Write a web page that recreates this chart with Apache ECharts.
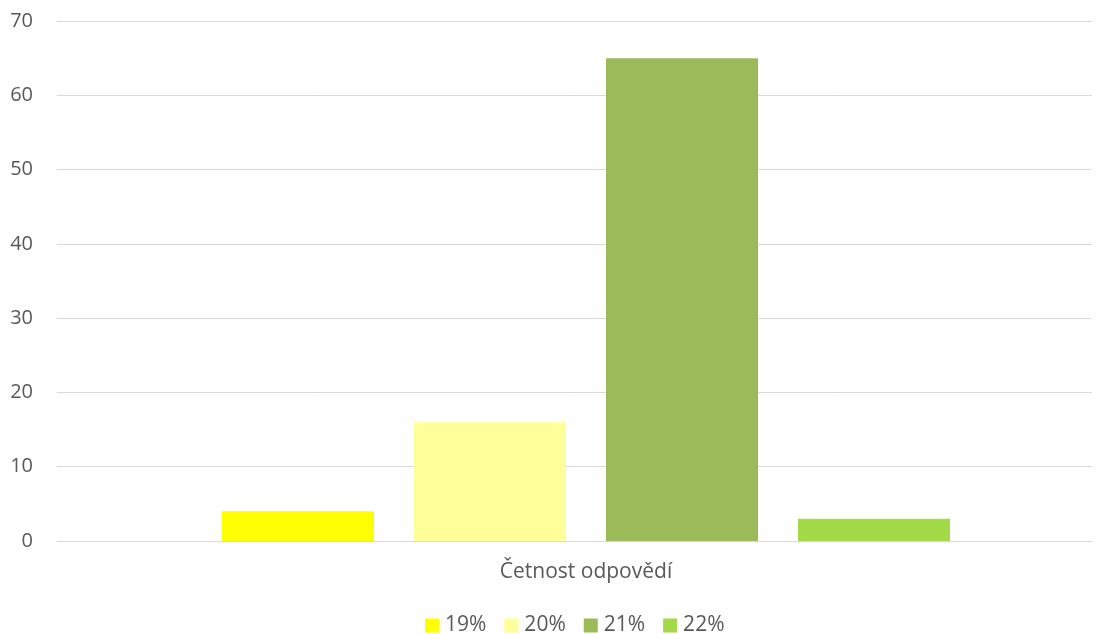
<!DOCTYPE html>
<html>
<head>
<meta charset="utf-8">
<script src="https://cdn.jsdelivr.net/npm/echarts@6/dist/echarts.min.js"></script>
<style>
  html, body { margin: 0; padding: 0; background: #ffffff; }
  #chart { width: 1104px; height: 634px; }
</style>
</head>
<body>
<div id="chart"></div>
<script>
// Response frequency by answer option
const categories = ['Četnost odpovědí'];
const seriesNames = ['19%', '20%', '21%', '22%'];
const seriesValues = [[4], [16], [65], [3]];
const seriesColors = ['#FFFF00', '#FFFF99', '#9BBB59', '#A3DB48'];
const yTicks = { min: 0, max: 70, interval: 10 };

const textColor = '#595959';
const gridColor = '#D9D9D9';
const fontFamily = '"Open Sans", "Noto Sans", sans-serif';

const chart = echarts.init(document.getElementById('chart'), null, { renderer: 'canvas' });

// Grid 0 carries the value scale, gridlines and baseline; grid 1 holds the bars
// and category label, with the plot band inset from the label gutter.
const series = seriesNames.map((name, i) => ({
  name: name,
  type: 'bar',
  xAxisIndex: 1,
  yAxisIndex: 1,
  data: seriesValues[i],
  itemStyle: { color: seriesColors[i] },
  barGap: '26.3%',
  barCategoryGap: '28.06%'
}));

chart.setOption({
  animation: false,
  backgroundColor: '#ffffff',
  grid: [
    { left: 57, right: 12, top: 21, bottom: 93, containLabel: false },
    { left: 80, right: 12, top: 21, bottom: 93, containLabel: false }
  ],
  xAxis: [
    {
      gridIndex: 0,
      type: 'category',
      data: [''],
      axisLine: { show: true, lineStyle: { color: gridColor, width: 1 } },
      axisTick: { show: false },
      axisLabel: { show: false }
    },
    {
      gridIndex: 1,
      type: 'category',
      data: categories,
      axisLine: { show: false },
      axisTick: { show: false },
      axisLabel: { color: textColor, fontSize: 21, fontFamily: fontFamily, margin: 21 }
    }
  ],
  yAxis: [
    {
      gridIndex: 0,
      type: 'value',
      min: yTicks.min,
      max: yTicks.max,
      interval: yTicks.interval,
      axisLine: { show: false },
      axisTick: { show: false },
      axisLabel: { color: textColor, fontSize: 20, fontFamily: fontFamily, margin: 24 },
      splitLine: { lineStyle: { color: gridColor, width: 1 } }
    },
    {
      gridIndex: 1,
      type: 'value',
      min: yTicks.min,
      max: yTicks.max,
      interval: yTicks.interval,
      show: false,
      splitLine: { show: false }
    }
  ],
  legend: {
    bottom: -7,
    left: 420,
    padding: 5,
    itemWidth: 14,
    itemHeight: 14,
    itemGap: 18,
    icon: 'rect',
    textStyle: { color: textColor, fontSize: 21, fontFamily: fontFamily, padding: [0, 0, 0, 1] },
    data: seriesNames
  },
  series: series
});
</script>
</body>
</html>
